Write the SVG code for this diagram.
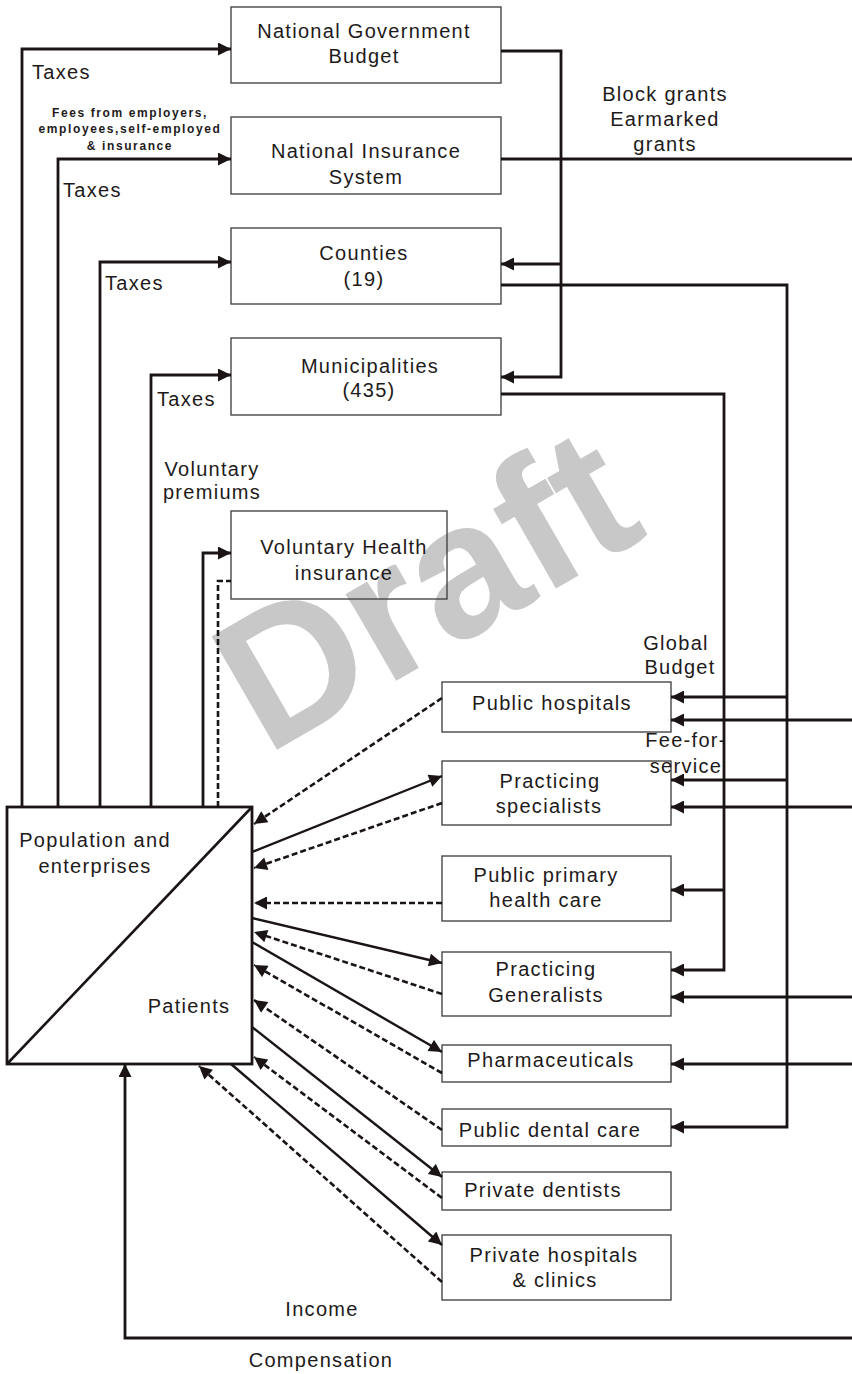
<svg xmlns="http://www.w3.org/2000/svg" width="852" height="1374" viewBox="0 0 852 1374">
<defs>
<marker id="ah" viewBox="0 0 12 12" refX="12" refY="6" markerWidth="14" markerHeight="13" markerUnits="userSpaceOnUse" orient="auto">
<path d="M0,0 L12,6 L0,12 z" fill="#1a1514"/>
</marker>
<style>
text{font-family:"Liberation Sans",Arial,sans-serif;fill:#1e1a1a}
.t{font-size:20px;letter-spacing:1.3px;text-anchor:middle}
.l{font-size:20px;letter-spacing:1.3px}
.fee{font-size:12px;font-weight:bold;letter-spacing:1.6px;text-anchor:middle}
.box{fill:none;stroke:#3a3a3a;stroke-width:1.3}
.c{fill:none;stroke:#1a1514;stroke-width:2.8}
.a{fill:none;stroke:#1a1514;stroke-width:2.8;marker-end:url(#ah)}
.d{fill:none;stroke:#1a1514;stroke-width:2.6;stroke-dasharray:6 3}
.da{fill:none;stroke:#1a1514;stroke-width:2.6;stroke-dasharray:6 3;marker-end:url(#ah)}
.s{fill:none;stroke:#1a1514;stroke-width:2.4;marker-end:url(#ah)}
</style>
</defs>
<rect width="852" height="1374" fill="#fff"/>
<text transform="translate(266,756) rotate(-30)" style="font-size:190px;font-weight:bold;fill:#c8c8c8;letter-spacing:0">Draft</text>

<g id="ngb"><rect class="box" x="231" y="7" width="270" height="76"/><text class="t" x="364" y="38">National Government</text><text class="t" x="364" y="63">Budget</text></g>
<g id="nis"><rect class="box" x="231" y="117" width="270" height="77"/><text class="t" x="366" y="158">National Insurance</text><text class="t" x="366" y="184">System</text></g>
<g id="counties"><rect class="box" x="231" y="228" width="270" height="76"/><text class="t" x="364" y="260">Counties</text><text class="t" x="364" y="286">(19)</text></g>
<g id="municipalities"><rect class="box" x="231" y="338" width="270" height="77"/><text class="t" x="370" y="373">Municipalities</text><text class="t" x="369" y="397">(435)</text></g>
<g id="vhi"><rect class="box" x="231" y="511" width="216" height="88"/><text class="t" x="344" y="554">Voluntary Health</text><text class="t" x="344" y="580">insurance</text></g>
<g id="population"><rect x="7" y="807" width="245" height="257" fill="none" stroke="#1a1514" stroke-width="2.8"/><line x1="7" y1="1064" x2="252" y2="807" stroke="#1a1514" stroke-width="2.6"/><text class="t" x="95" y="847">Population and</text><text class="t" x="95" y="873">enterprises</text><text class="t" x="189" y="1013">Patients</text></g>
<g id="pubhosp"><rect class="box" x="442" y="682" width="229" height="50"/><text class="t" x="552" y="710">Public hospitals</text></g>
<g id="pracspec"><rect class="box" x="442" y="761" width="229" height="64"/><text class="t" x="550" y="788">Practicing</text><text class="t" x="549" y="813">specialists</text></g>
<g id="pubprim"><rect class="box" x="442" y="856" width="229" height="65"/><text class="t" x="546" y="882">Public primary</text><text class="t" x="546" y="907">health care</text></g>
<g id="pracgen"><rect class="box" x="442" y="952" width="229" height="64"/><text class="t" x="546" y="976">Practicing</text><text class="t" x="546" y="1002">Generalists</text></g>
<g id="pharma"><rect class="box" x="442" y="1045" width="229" height="37"/><text class="t" x="551" y="1067">Pharmaceuticals</text></g>
<g id="pubdental"><rect class="box" x="442" y="1109" width="229" height="37"/><text class="t" x="550" y="1137">Public dental care</text></g>
<g id="privdent"><rect class="box" x="442" y="1172" width="229" height="38"/><text class="t" x="543" y="1197">Private dentists</text></g>
<g id="privhosp"><rect class="box" x="442" y="1235" width="229" height="65"/><text class="t" x="554" y="1262">Private hospitals</text><text class="t" x="555" y="1287">&amp; clinics</text></g>

<g id="connectors">
<path class="a" d="M22,807 V49 H231"/>
<path class="a" d="M58,807 V159 H231"/>
<path class="a" d="M100,807 V262 H231"/>
<path class="a" d="M151,807 V375 H231"/>
<path class="a" d="M203,807 V553 H231"/>
<path class="d" d="M218,807 V581 H231"/>
<path class="a" d="M501,51 H561 V377 H501"/>
<path class="a" d="M561,264 H501"/>
<path class="c" d="M501,159 H852"/>
<path class="a" d="M501,285 H787 V1127 H671"/>
<path class="a" d="M787,697 H671"/>
<path class="a" d="M787,780 H671"/>
<path class="a" d="M501,394 H724 V970 H671"/>
<path class="a" d="M724,890 H671"/>
<path class="a" d="M852,720 H671"/>
<path class="a" d="M852,807 H671"/>
<path class="a" d="M852,997 H671"/>
<path class="a" d="M852,1064 H671"/>
<path class="a" d="M852,1338 H125 V1064"/>
<path class="da" d="M442,698 L254,824"/>
<path class="da" d="M442,803 L254,868"/>
<path class="da" d="M442,903 L254,903"/>
<path class="da" d="M442,994 L254,932"/>
<path class="da" d="M442,1073 L254,965"/>
<path class="da" d="M442,1130 L254,1000"/>
<path class="da" d="M442,1198 L254,1057"/>
<path class="da" d="M442,1282 L199,1066"/>
<path class="s" d="M252,852 L442,776"/>
<path class="s" d="M252,918 L442,963"/>
<path class="s" d="M252,942 L442,1052"/>
<path class="s" d="M252,1027 L442,1177"/>
<path class="s" d="M231,1064 L442,1245"/>
</g>

<g id="labels">
<text class="l" x="32" y="79">Taxes</text>
<text class="l" x="63" y="197">Taxes</text>
<text class="l" x="105" y="290">Taxes</text>
<text class="l" x="157" y="406">Taxes</text>
<text class="fee" x="130" y="117">Fees from employers,</text>
<text class="fee" x="130" y="133">employees,self-employed</text>
<text class="fee" x="130" y="150">&amp; insurance</text>
<text class="t" x="212" y="476">Voluntary</text>
<text class="t" x="212" y="499">premiums</text>
<text class="t" x="665" y="101">Block grants</text>
<text class="t" x="665" y="126">Earmarked</text>
<text class="t" x="665" y="151">grants</text>
<text class="t" x="676" y="650">Global</text>
<text class="t" x="680" y="674">Budget</text>
<text class="t" x="686" y="747">Fee-for-</text>
<text class="t" x="686" y="773">service</text>
<text class="t" x="322" y="1316">Income</text>
<text class="t" x="321" y="1367">Compensation</text>
</g>
</svg>
